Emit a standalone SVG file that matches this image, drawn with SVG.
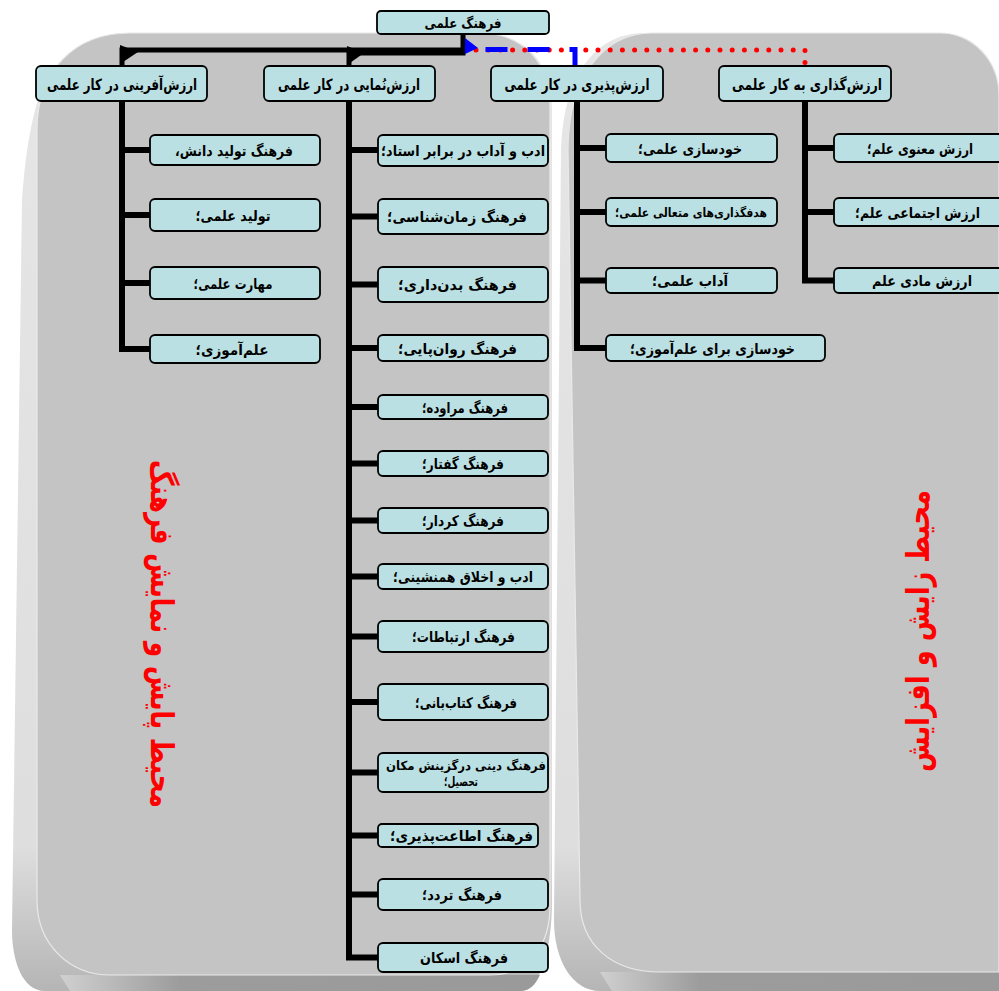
<svg xmlns="http://www.w3.org/2000/svg" width="999" height="991" viewBox="0 0 999 991">
  <defs>
    <style>
      .box { fill: #bbe0e3; stroke: #000; stroke-width: 1.8; }
      .lbl { font-family: "DejaVu Sans", sans-serif; font-weight: bold; font-size: 14.5px; fill: #000; text-anchor: middle; direction: rtl; }
      .head { font-size: 15.5px; }
      .small { font-size: 12.5px; }
      .trunk { fill: none; stroke: #000; stroke-width: 6; stroke-linejoin: miter; }
      .side { font-family: "DejaVu Sans", sans-serif; font-weight: bold; font-size: 32px; fill: #ff0000; text-anchor: middle; direction: rtl; }
    </style>
    <linearGradient id="bevelL" x1="0" y1="0" x2="0" y2="1">
      <stop offset="0" stop-color="#e6e6e6"/>
      <stop offset="0.85" stop-color="#dedede"/>
      <stop offset="1" stop-color="#b5b5b5"/>
    </linearGradient>
    <linearGradient id="shadowB" x1="0" y1="0" x2="1" y2="0">
      <stop offset="0" stop-color="#d0d0d0"/>
      <stop offset="0.25" stop-color="#9c9c9c"/>
      <stop offset="1" stop-color="#9a9a9a"/>
    </linearGradient>
  </defs>

  <rect width="999" height="991" fill="#ffffff"/>

  <!-- background panels -->
  <g id="panel-left">
    <path d="M60,62 C85,38 105,33 130,33 L480,33 C525,33 552,62 552,110 L552,900 C552,950 540,991 520,991 L45,991 C22,991 12,960 12,930 L22,200 C28,120 40,80 60,62 Z" fill="url(#bevelL)"/>
    <path d="M60,975 L540,975 C535,985 530,991 520,991 L70,991 Z" fill="url(#shadowB)"/>
    <path d="M37,130 C37,70 75,33 130,33 L480,33 C522,33 550,62 550,105 L550,905 C550,945 530,975 490,975 L110,975 C70,975 37,945 37,900 Z" fill="#c4c4c4" stroke="#e9e9e9" stroke-width="1.2"/>
  </g>
  <g id="panel-right">
    <path d="M561,150 C563,80 592,33 645,33 L940,33 C975,33 999,60 999,95 L999,991 L600,991 C572,991 554,960 554,920 Z" fill="url(#bevelL)"/>
    <path d="M600,972 L999,972 L999,991 L612,991 Z" fill="url(#shadowB)"/>
    <path d="M568,150 C568,80 602,33 652,33 L940,33 C972,33 999,60 999,95 L999,972 L660,972 C612,972 580,945 580,900 Z" fill="#c4c4c4" stroke="#e9e9e9" stroke-width="1.2"/>
  </g>

  <!-- connectors -->
  <g id="connectors">
    <!-- links from the root -->
    <path d="M463,34 V50 H122 V66" fill="none" stroke="#000" stroke-width="5"/>
    <path d="M463,50 V53 H349 V66" fill="none" stroke="#000" stroke-width="5"/>
    <polygon points="120,45 120,64 138,52" fill="#000"/>
    <polygon points="347,46 347,65 364,53" fill="#000"/>
    <path d="M476,50 H805 V64" fill="none" stroke="#ff0000" stroke-width="5" stroke-linecap="round" stroke-dasharray="0 12.2"/>
    <path d="M575,66 V49.5 H478" fill="none" stroke="#0000ff" stroke-width="5" stroke-dasharray="22 20"/>
    <polygon points="465,38 465,54 478,48" fill="#0000ff"/>

    <!-- column 1 -->
    <path class="trunk" d="M122,101 V349 H150"/>
    <path class="trunk" d="M122,150 H150 M122,215 H150 M122,283 H150"/>
    <!-- column 2 -->
    <path class="trunk" d="M349,101 V957.5 H378"/>
    <path class="trunk" d="M349,150 H378 M349,216.5 H378 M349,284.5 H378 M349,348 H378 M349,407 H378 M349,463.5 H378 M349,520.5 H378 M349,576.5 H378 M349,636.5 H378 M349,702 H378 M349,772.5 H378 M349,835.5 H378 M349,894.5 H378"/>
    <!-- column 3 -->
    <path class="trunk" d="M577,101 V348 H606"/>
    <path class="trunk" d="M577,148 H606 M577,212 H606 M577,280.5 H606"/>
    <!-- column 4 -->
    <path class="trunk" d="M805,101 V280.5 H834"/>
    <path class="trunk" d="M805,148 H834 M805,212 H834"/>
  </g>

  <!-- root -->
  <g id="n-root">
    <rect class="box" x="377" y="11" width="172" height="23" rx="4"/>
    <text class="lbl" x="463" y="28" style="font-size:14px" textLength="77" lengthAdjust="spacingAndGlyphs">فرهنگ علمی</text>
  </g>

  <!-- level 2 -->
  <g id="n-creation">
    <rect class="box" x="36" y="66" width="171" height="35" rx="5"/>
    <text class="lbl head" x="122" y="90" textLength="150" lengthAdjust="spacingAndGlyphs">ارزش‌آفرینی در کار علمی</text>
  </g>
  <g id="n-display">
    <rect class="box" x="264" y="66" width="171" height="35" rx="5"/>
    <text class="lbl head" x="349" y="90" textLength="142" lengthAdjust="spacingAndGlyphs">ارزش‌نُمایی در کار علمی</text>
  </g>
  <g id="n-acceptance">
    <rect class="box" x="491" y="66" width="172" height="35" rx="5"/>
    <text class="lbl head" x="577" y="90" textLength="145" lengthAdjust="spacingAndGlyphs">ارزش‌پذیری در کار علمی</text>
  </g>
  <g id="n-valuing">
    <rect class="box" x="719" y="66" width="172" height="35" rx="5"/>
    <text class="lbl head" x="807" y="90" textLength="150" lengthAdjust="spacingAndGlyphs">ارزش‌گذاری به کار علمی</text>
  </g>

  <!-- column 1 items -->
  <g id="n-c1-1">
    <rect class="box" x="150" y="135" width="170" height="30" rx="5"/>
    <text class="lbl" x="234" y="155.5" textLength="118" lengthAdjust="spacingAndGlyphs">فرهنگ تولید دانش،</text>
  </g>
  <g id="n-c1-2">
    <rect class="box" x="150" y="199" width="170" height="32" rx="5"/>
    <text class="lbl" x="233" y="220.5" textLength="75" lengthAdjust="spacingAndGlyphs">تولید علمی؛</text>
  </g>
  <g id="n-c1-3">
    <rect class="box" x="150" y="267" width="170" height="32" rx="5"/>
    <text class="lbl" x="233" y="288.5" textLength="79" lengthAdjust="spacingAndGlyphs">مهارت علمی؛</text>
  </g>
  <g id="n-c1-4">
    <rect class="box" x="150" y="335" width="170" height="28" rx="5"/>
    <text class="lbl" x="232" y="354.5" textLength="73" lengthAdjust="spacingAndGlyphs">علم‌آموزی؛</text>
  </g>

  <!-- column 2 items -->
  <g id="n-c2-1">
    <rect class="box" x="378" y="135" width="170" height="31" rx="5"/>
    <text class="lbl" x="463" y="156" textLength="164" lengthAdjust="spacingAndGlyphs">ادب و آداب در برابر استاد؛</text>
  </g>
  <g id="n-c2-2">
    <rect class="box" x="378" y="199" width="170" height="35" rx="5"/>
    <text class="lbl" x="457" y="222" textLength="140" lengthAdjust="spacingAndGlyphs">فرهنگ زمان‌شناسی؛</text>
  </g>
  <g id="n-c2-3">
    <rect class="box" x="378" y="267" width="170" height="35" rx="5"/>
    <text class="lbl" x="457.5" y="290" textLength="119" lengthAdjust="spacingAndGlyphs">فرهنگ بدن‌داری؛</text>
  </g>
  <g id="n-c2-4">
    <rect class="box" x="378" y="335" width="170" height="26" rx="5"/>
    <text class="lbl" x="457.5" y="353.5" textLength="119" lengthAdjust="spacingAndGlyphs">فرهنگ روان‌پایی؛</text>
  </g>
  <g id="n-c2-5">
    <rect class="box" x="378" y="395" width="170" height="24" rx="5"/>
    <text class="lbl" x="465" y="412.5" textLength="86" lengthAdjust="spacingAndGlyphs">فرهنگ مراوده؛</text>
  </g>
  <g id="n-c2-6">
    <rect class="box" x="378" y="451" width="170" height="25" rx="5"/>
    <text class="lbl" x="463" y="469" textLength="82" lengthAdjust="spacingAndGlyphs">فرهنگ گفتار؛</text>
  </g>
  <g id="n-c2-7">
    <rect class="box" x="378" y="508" width="170" height="25" rx="5"/>
    <text class="lbl" x="463" y="526" textLength="82" lengthAdjust="spacingAndGlyphs">فرهنگ کردار؛</text>
  </g>
  <g id="n-c2-8">
    <rect class="box" x="378" y="564" width="170" height="25" rx="5"/>
    <text class="lbl" x="463" y="582" textLength="140" lengthAdjust="spacingAndGlyphs">ادب و اخلاق همنشینی؛</text>
  </g>
  <g id="n-c2-9">
    <rect class="box" x="378" y="621" width="170" height="31" rx="5"/>
    <text class="lbl" x="463.5" y="642" textLength="103" lengthAdjust="spacingAndGlyphs">فرهنگ ارتباطات؛</text>
  </g>
  <g id="n-c2-10">
    <rect class="box" x="378" y="684" width="170" height="36" rx="5"/>
    <text class="lbl" x="466" y="707.5" textLength="102" lengthAdjust="spacingAndGlyphs">فرهنگ کتاب‌بانی؛</text>
  </g>
  <g id="n-c2-11">
    <rect class="box" x="378" y="753" width="170" height="39" rx="5"/>
    <text class="lbl small" x="466" y="770" textLength="160" lengthAdjust="spacingAndGlyphs">فرهنگ دینی درگزینش مکان</text>
    <text class="lbl small" x="461" y="786" textLength="34" lengthAdjust="spacingAndGlyphs">تحصیل؛</text>
  </g>
  <g id="n-c2-12">
    <rect class="box" x="378" y="824" width="160" height="23" rx="4"/>
    <text class="lbl" x="461.5" y="841" textLength="143" lengthAdjust="spacingAndGlyphs">فرهنگ اطاعت‌پذیری؛</text>
  </g>
  <g id="n-c2-13">
    <rect class="box" x="378" y="879" width="170" height="31" rx="5"/>
    <text class="lbl" x="462" y="900" textLength="80" lengthAdjust="spacingAndGlyphs">فرهنگ تردد؛</text>
  </g>
  <g id="n-c2-14">
    <rect class="box" x="378" y="943" width="170" height="29" rx="5"/>
    <text class="lbl" x="464" y="963" textLength="88" lengthAdjust="spacingAndGlyphs">فرهنگ اسکان</text>
  </g>

  <!-- column 3 items -->
  <g id="n-c3-1">
    <rect class="box" x="606" y="134" width="171" height="28" rx="5"/>
    <text class="lbl" x="690" y="153.5" textLength="104" lengthAdjust="spacingAndGlyphs">خودسازی علمی؛</text>
  </g>
  <g id="n-c3-2">
    <rect class="box" x="606" y="198" width="171" height="28" rx="5"/>
    <text class="lbl small" x="691" y="217" textLength="152" lengthAdjust="spacingAndGlyphs">هدفگذاری‌های متعالی علمی؛</text>
  </g>
  <g id="n-c3-3">
    <rect class="box" x="606" y="268" width="171" height="25" rx="5"/>
    <text class="lbl" x="690" y="286" textLength="76" lengthAdjust="spacingAndGlyphs">آداب علمی؛</text>
  </g>
  <g id="n-c3-4">
    <rect class="box" x="606" y="335" width="219" height="26" rx="5"/>
    <text class="lbl" x="712.5" y="353.5" textLength="165" lengthAdjust="spacingAndGlyphs">خودسازی برای علم‌آموزی؛</text>
  </g>

  <!-- column 4 items -->
  <g id="n-c4-1">
    <rect class="box" x="834" y="134" width="172" height="28" rx="5"/>
    <text class="lbl" x="920" y="153.5" textLength="106" lengthAdjust="spacingAndGlyphs">ارزش معنوی علم؛</text>
  </g>
  <g id="n-c4-2">
    <rect class="box" x="834" y="198" width="172" height="28" rx="5"/>
    <text class="lbl" x="917.5" y="217.5" textLength="125" lengthAdjust="spacingAndGlyphs">ارزش اجتماعی علم؛</text>
  </g>
  <g id="n-c4-3">
    <rect class="box" x="834" y="268" width="172" height="25" rx="5"/>
    <text class="lbl" x="922" y="286" textLength="100" lengthAdjust="spacingAndGlyphs">ارزش مادی علم</text>
  </g>

  <!-- side captions -->
  <g id="caption-left">
    <text class="side" transform="translate(162,634) rotate(90)" dominant-baseline="central" textLength="348" lengthAdjust="spacingAndGlyphs">محیط پایش و نمایش فرهنگ</text>
  </g>
  <g id="caption-right">
    <text class="side" transform="translate(918,631) rotate(-90)" dominant-baseline="central" textLength="282" lengthAdjust="spacingAndGlyphs">محیط زایش و افزایش</text>
  </g>
</svg>
